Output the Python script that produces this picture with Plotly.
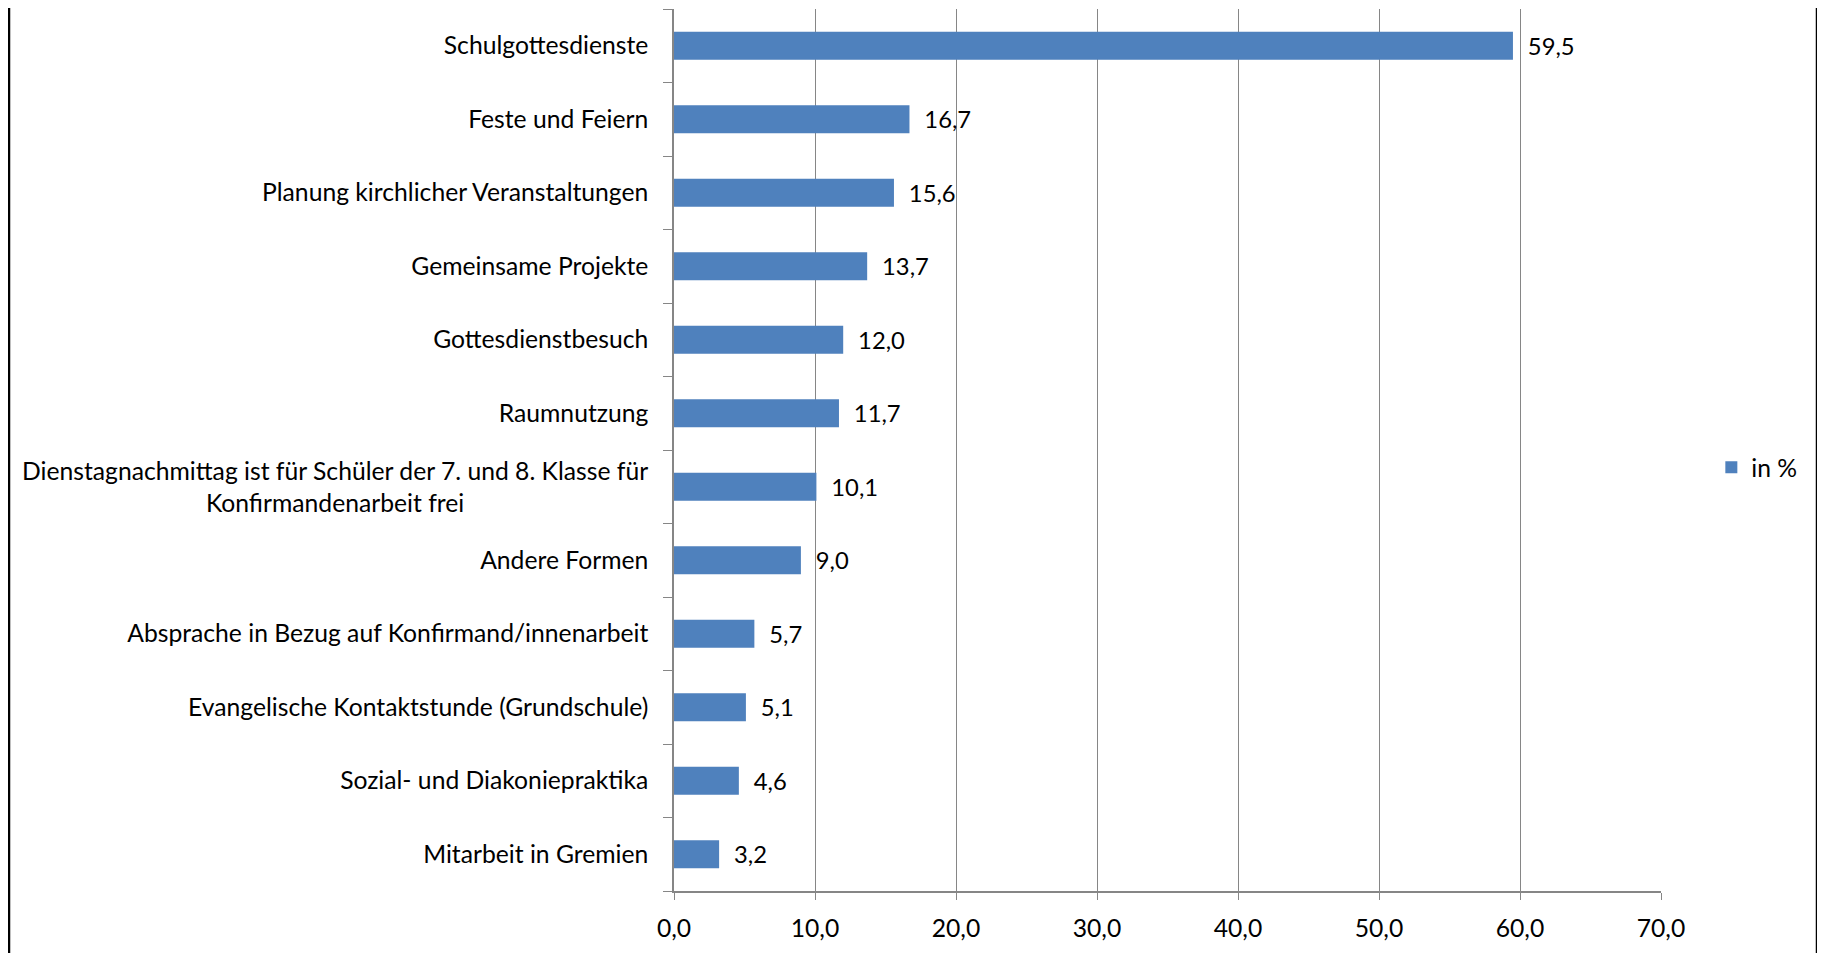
import plotly.graph_objects as go

categories = [
    "Schulgottesdienste",
    "Feste und Feiern",
    "Planung kirchlicher Veranstaltungen",
    "Gemeinsame Projekte",
    "Gottesdienstbesuch",
    "Raumnutzung",
    "Dienstagnachmittag ist für Schüler der 7. und 8. Klasse für<br>Konfirmandenarbeit frei",
    "Andere Formen",
    "Absprache in Bezug auf Konfirmand/innenarbeit",
    "Evangelische Kontaktstunde (Grundschule)",
    "Sozial- und Diakoniepraktika",
    "Mitarbeit in Gremien",
]
values = [59.5, 16.7, 15.6, 13.7, 12.0, 11.7, 10.1, 9.0, 5.7, 5.1, 4.6, 3.2]
series_name = "in %"
x_ticks = [0, 10, 20, 30, 40, 50, 60, 70]

FONT = "Lato, Carlito, Calibri, sans-serif"
FS = 24.7
# page body has an 8px margin, so the figure is 8px smaller than the window
W, H = 1817, 945
L, R, T, B = 666, 164, 1, 62
PW, PH = W - L - R, H - T - B

tick_text = ["" if "<br>" in c else c for c in categories]

fig = go.Figure()
fig.add_trace(go.Bar(
    x=values, y=categories, orientation="h", name=series_name,
    marker=dict(color="#4F81BD", line=dict(color="#4F81BD", width=0)),
    texttemplate="\u2002%{x:.1f}", textposition="outside",
    textfont=dict(family=FONT, size=FS, color="#000000"),
    cliponaxis=False, showlegend=True,
))

for c in categories:
    if "<br>" in c:
        fig.add_annotation(
            x=0, xref="paper", xshift=-24, y=c, yref="y",
            text=c, showarrow=False, xanchor="right", yanchor="middle",
            align="center", font=dict(family=FONT, size=FS, color="#000000"),
        )

fig.update_layout(
    width=W, height=H,
    margin=dict(l=L, r=R, t=T, b=B, autoexpand=False),
    paper_bgcolor="white", plot_bgcolor="white",
    separators=",.",
    bargap=0.62,
    font=dict(family=FONT, size=FS, color="#000000"),
    legend=dict(x=1.051, y=0.48, xanchor="left", yanchor="middle",
                font=dict(family=FONT, size=FS, color="#000000"),
                bgcolor="rgba(0,0,0,0)", itemwidth=30),
    xaxis=dict(
        range=[0, 70], tickvals=x_ticks, tickformat=".1f",
        showgrid=True, gridcolor="#868686", gridwidth=1.3,
        showline=True, linecolor="#868686", linewidth=1.5,
        ticks="outside", ticklen=7, tickcolor="#868686", tickwidth=1.3,
        zeroline=False, tickfont=dict(family=FONT, size=FS, color="#000000"),
        ticklabelstandoff=8,
    ),
    yaxis=dict(
        categoryorder="array", categoryarray=categories,
        tickvals=categories, ticktext=tick_text,
        autorange="reversed", tickson="boundaries",
        showline=True, linecolor="#868686", linewidth=1.5,
        ticks="outside", ticklen=9, tickcolor="#868686", tickwidth=1.3,
        showgrid=False, zeroline=False,
        tickfont=dict(family=FONT, size=FS, color="#000000"),
        ticklabelstandoff=19,
    ),
)

# outer chart frame: only the left and right edges are visible
for xp in (1, 1809):
    fig.add_shape(type="line", xref="paper", yref="paper",
                  x0=(xp - L) / PW, x1=(xp - L) / PW,
                  y0=-(B + 10) / PH, y1=1 + (T + 10) / PH,
                  line=dict(color="#000000", width=2.5), layer="below")

fig.write_html("out.html")
